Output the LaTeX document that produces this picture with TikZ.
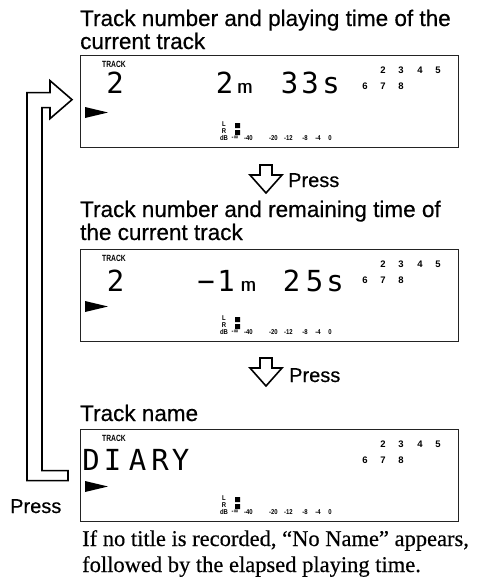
\documentclass[tikz,border=0pt]{standalone}
\usepackage{fontspec}
\setmainfont{Liberation Serif}
\setsansfont{Liberation Sans}
\newfontfamily\headfont{Liberation Sans}[FakeBold=0.5]
\newfontfamily\notefont{Liberation Serif}[FakeBold=0.4]
\newfontfamily\lcdfont{DejaVu Sans Mono}
\newfontfamily\symfont{DejaVu Sans}
\usetikzlibrary{positioning,calc}
\definecolor{panelEdge}{RGB}{35,35,35}

% fixed parts of one display panel
\newcommand\lcdpanel[1]{%
  \begin{scope}[shift={(#1.north west)}]
    \node[tag] (#1-tag) at (34,9) {TRACK};
    \foreach \n/\x in {2/303,3/321,4/340,5/358}
      \node[trk] (#1-t\n) at (\x,15.5) {\n};
    \foreach \n/\x in {6/285,7/303,8/321}
      \node[trk] (#1-t\n) at (\x,31) {\n};
    \fill (5,52) -- (28,57.5) -- (5,63) -- cycle;
    \node[meter] (#1-L) at (144,69.5) {L};
    \node[meter] (#1-R) at (144,76) {R};
    \node[meter] (#1-dB) at (144,83) {dB};
    \fill (155,68) rectangle (160,73) (155,75) rectangle (160,80);
    \foreach \s/\x [count=\i] in {{-{\symfont\bfseries ∞}}/155,-40/168.5,-20/193.5,-12/208.5,-8/225,-4/238,0/250}
      \node[meter] (#1-s\i) at (\x,83) {\s};
  \end{scope}}

\begin{document}
\begin{tikzpicture}[x=1pt,y=-1pt,
  head/.style={anchor=base west,inner sep=0pt,font=\headfont\fontsize{22.5}{23}\selectfont},
  press/.style={anchor=base west,inner sep=0pt,font=\headfont\fontsize{20}{20}\selectfont},
  note/.style={anchor=base west,inner sep=0pt,font=\notefont\fontsize{22.5}{26}\selectfont},
  lcdbox/.style={draw=panelEdge,line width=1.3pt,anchor=north west,inner sep=0pt,minimum width=378pt,minimum height=92pt},
  seg/.style={anchor=base,inner sep=0pt,font=\lcdfont\fontsize{29}{29}\selectfont},
  segsmall/.style={anchor=base,inner sep=0pt,xscale=1.45,font=\lcdfont\fontsize{18}{18}\selectfont},
  tag/.style={inner sep=0pt,xscale=0.75,font=\sffamily\bfseries\fontsize{9}{9}\selectfont},
  trk/.style={inner sep=0pt,font=\sffamily\bfseries\fontsize{9.5}{9.5}\selectfont},
  meter/.style={inner sep=0pt,xscale=0.85,font=\sffamily\bfseries\fontsize{7}{7}\selectfont},
  hollow/.style={draw,line width=1.6pt,fill=white,line join=miter}]
  \useasboundingbox (0,0) rectangle (496,582);
  % headings
  \node[head] (title1) at (80,26) {Track number and playing time of the};
  \node[head] (title1b) at (80,49) {current track};
  \node[head] (title2) at (80,217) {Track number and remaining time of};
  \node[head] (title2b) at (80,240) {the current track};
  \node[head] (title3) at (80,421) {Track name};
  % displays
  \node[lcdbox] (disp1) at (80,55) {};
  \node[lcdbox] (disp2) at (80,249) {};
  \node[lcdbox] (disp3) at (80,429) {};
  \lcdpanel{disp1}
  \lcdpanel{disp2}
  \lcdpanel{disp3}
  % segment text
  \foreach \c/\x [count=\i] in {2/115,2/224.5,3/289.5,3/310,s/331}
    \node[seg] (d1-\i) at (\x,93) {\c};
  \node[segsmall] (d1-m) at (245,93) {m};
  \foreach \c/\x [count=\i] in {2/115.5,−/206,1/226,2/291.5,5/314.5,s/335}
    \node[seg] (d2-\i) at (\x,291) {\c};
  \node[segsmall] (d2-m) at (248.5,291) {m};
  \foreach \c/\x [count=\i] in {D/91,I/112.5,A/137.5,R/160,Y/180.5}
    \node[seg] (d3-\i) at (\x,470) {\c};
  % press arrows
  \coordinate (push1) at (266,165);
  \coordinate (push2) at (266,358);
  \foreach \p in {push1,push2}
    \draw[hollow] (\p) ++(-6,0) -- ++(12,0) -- ++(0,10) -- ++(10,0) -- ++(-16,18)
      -- ++(-16,-18) -- ++(10,0) -- cycle;
  \node[press] (press1) at (288,187) {Press};
  \node[press] (press2) at (289,382) {Press};
  % loop back to the first display
  \coordinate (loopTip) at ($(disp1.west)+(-8,-2)$);
  \coordinate (loopTail) at ($(disp3.west)+(-12,0)$);
  \draw[hollow] (loopTail) ++(0,5) -- ++(-41,0) |- ($(loopTip)+(-22,-7)$) -- ++(0,-12)
    -- (loopTip) -- ++(-22,19) -- ++(0,-11) -- ++(-8,0) |- ($(loopTail)+(0,-5)$) -- cycle;
  \node[press] (press3) at (10,513) {Press};
  % note
  \node[note] (note1) at (82,546) {If no title is recorded, “No Name” appears,};
  \node[note] (note2) at (82,572) {followed by the elapsed playing time.};
\end{tikzpicture}
\end{document}
